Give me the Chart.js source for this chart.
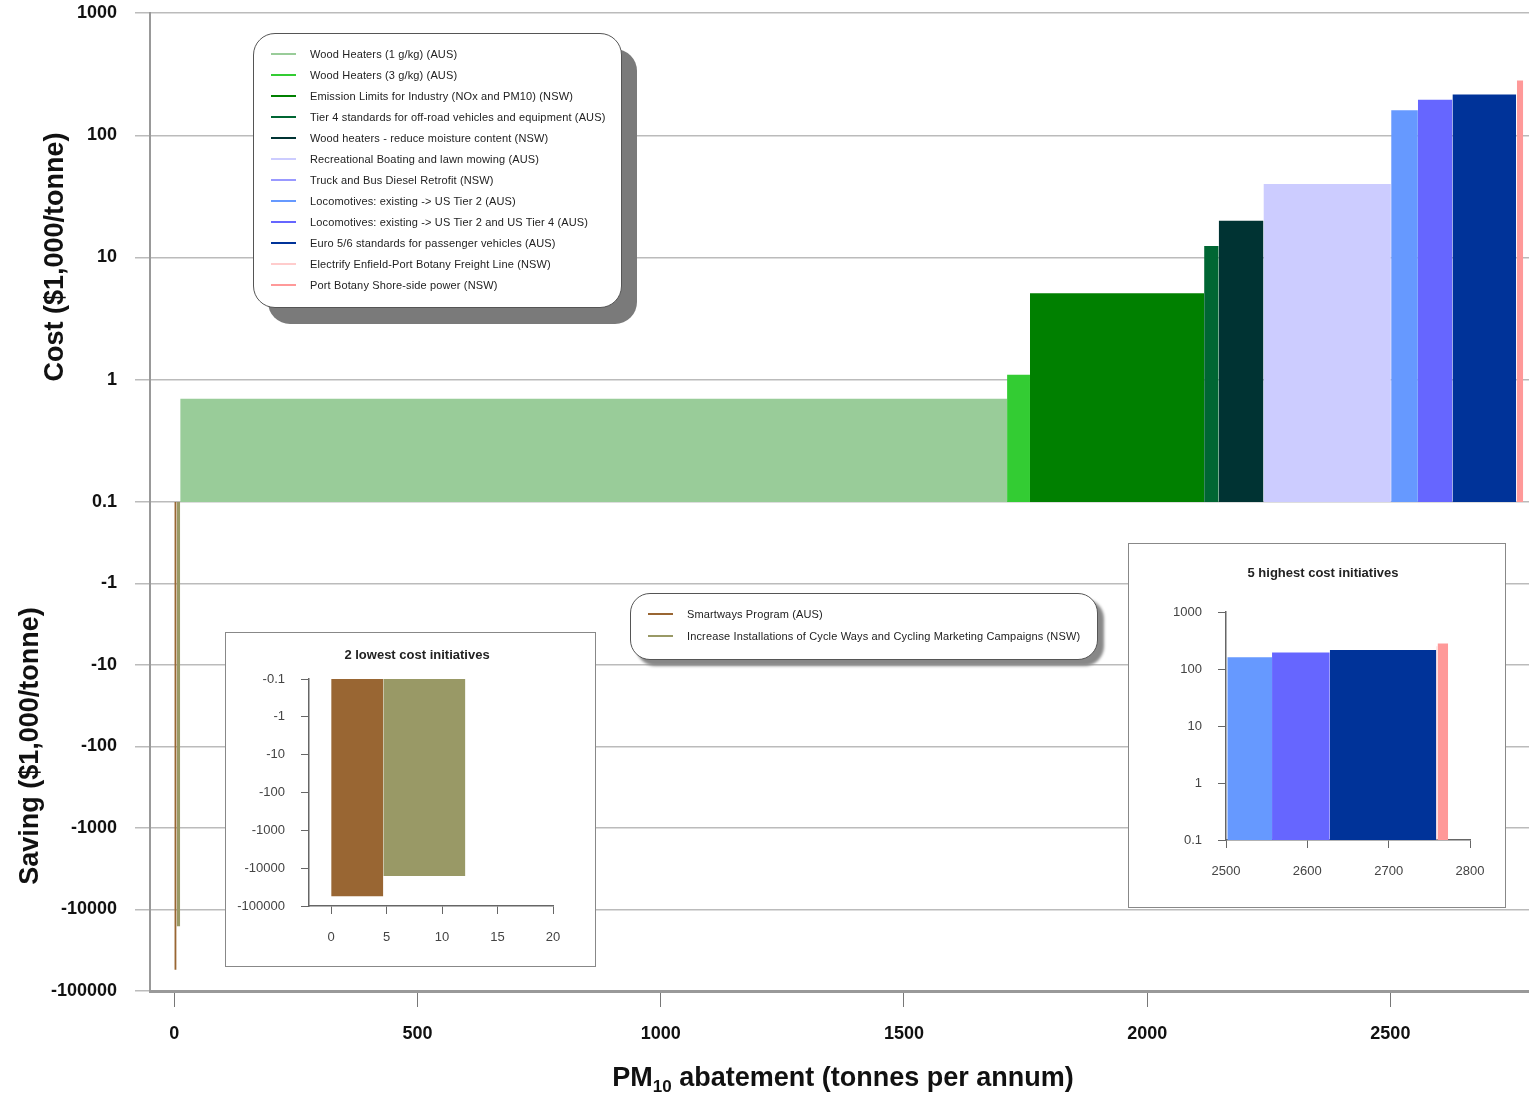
<!DOCTYPE html>
<html lang="en">
<head>
<meta charset="utf-8">
<title>PM10 abatement cost curve</title>
<script src="https://cdn.jsdelivr.net/npm/chart.js@4.4.0/dist/chart.umd.min.js"></script>
<style>
  html, body { margin: 0; padding: 0; background: #fff; }
  body { font-family: "Liberation Sans", Arial, sans-serif; }
  #wrap { position: relative; width: 1529px; height: 1096px; overflow: hidden; }
  #main { position: absolute; left: 0; top: 0; }
  .legend { position: absolute; background: #fff; border: 1.5px solid #555; box-sizing: border-box; }
  .legend .row { position: absolute; left: 0; height: 20px; line-height: 20px; font-size: 11px; letter-spacing: 0.14px; color: #222; white-space: nowrap; }
  .legend .swatch { position: absolute; left: 17px; top: 9px; width: 25px; height: 2px; }
  .legend .txt { position: absolute; left: 56px; top: 0; }
  .inset { position: absolute; background: #fff; border: 1px solid #888; box-sizing: border-box; }
  .inset canvas { position: absolute; left: 0; top: 0; }
  .inset .ttl { position: absolute; transform: translateX(-50%); white-space: nowrap; font-weight: bold; font-size: 13px; line-height: 16px; color: #222; }
</style>
</head>
<body>
<div id="wrap">
  <canvas id="main" width="1529" height="1096"></canvas>

  <div class="legend" id="legTop" style="left:253px; top:33px; width:369px; height:275px; border-radius:22px; box-shadow:15px 16px 0 #7a7a7a;"></div>
  <div class="legend" id="legLow" style="left:630px; top:593px; width:468px; height:67px; border-radius:20px; box-shadow:6px 6px 3px #888;"></div>

  <div class="inset" style="left:225px; top:632px; width:371px; height:335px;">
    <canvas id="lowChart" width="369" height="333"></canvas>
    <div class="ttl" style="left:191px; top:14px;">2 lowest cost initiatives</div>
  </div>
  <div class="inset" style="left:1128px; top:543px; width:378px; height:365px;">
    <canvas id="highChart" width="376" height="363"></canvas>
    <div class="ttl" style="left:194px; top:21px;">5 highest cost initiatives</div>
  </div>
</div>

<script>
// initiatives in cost order (left to right along the curve)
const names = [
  'Smartways Program (AUS)',
  'Increase Installations of Cycle Ways and Cycling Marketing Campaigns (NSW)',
  'Wood Heaters (1 g/kg) (AUS)',
  'Wood Heaters (3 g/kg) (AUS)',
  'Emission Limits for Industry (NOx and PM10) (NSW)',
  'Tier 4 standards for off-road vehicles and equipment (AUS)',
  'Wood heaters - reduce moisture content (NSW)',
  'Recreational Boating and lawn mowing (AUS)',
  'Truck and Bus Diesel Retrofit (NSW)',
  'Locomotives: existing -> US Tier 2 (AUS)',
  'Locomotives: existing -> US Tier 2 and US Tier 4 (AUS)',
  'Euro 5/6 standards for passenger vehicles (AUS)',
  'Electrify Enfield-Port Botany Freight Line (NSW)',
  'Port Botany Shore-side power (NSW)'
];
// PM10 abatement, tonnes per annum (bar widths)
const abatement = [4.7, 7.4, 1700, 47, 358, 30, 92, 262, 0.5, 55, 71, 131, 1.5, 13];
// cost, $1,000/tonne (negative = saving)
const cost = [-55000, -16000, 0.7, 1.1, 5.1, 12.4, 20, 40, 90, 160, 195, 215, 250, 280];
const colors = ['#996633', '#999966', '#99cc99', '#33cc33', '#008000', '#006633', '#003333',
                '#ccccff', '#9999ff', '#6699ff', '#6666ff', '#003399', '#ffcccc', '#ff9999'];

const xTicksMain = [0, 500, 1000, 1500, 2000, 2500];
const yTicksMain = [1000, 100, 10, 1, 0.1, -1, -10, -100, -1000, -10000, -100000];
const yLabelsMain = ['1000', '100', '10', '1', '0.1', '-1', '-10', '-100', '-1000', '-10000', '-100000'];
const xTicksLow = [0, 5, 10, 15, 20];
const yTicksLow = [-0.1, -1, -10, -100, -1000, -10000, -100000];
const yLabelsLow = ['-0.1', '-1', '-10', '-100', '-1000', '-10000', '-100000'];
const xTicksHigh = [2500, 2600, 2700, 2800];
const yTicksHigh = [1000, 100, 10, 1, 0.1];
const yLabelsHigh = ['1000', '100', '10', '1', '0.1'];

const lowIdx = [0, 1];
const highIdx = [9, 10, 11, 12, 13];

// split log axis: costs on log10 above 0.1, savings on a compressed log below
function tr(v) {
  return v > 0 ? Math.log10(v) : -1 - (Math.log10(-v) + 1) * 2 / 3;
}

const starts = [];
let acc = 0;
abatement.forEach(w => { starts.push(acc); acc += w; });

function barSet(i) {
  const x0 = starts[i], x1 = starts[i] + abatement[i], t = tr(cost[i]);
  return {
    label: names[i],
    data: [{x: x0, y: -1}, {x: x0, y: t}, {x: x1, y: t}, {x: x1, y: -1}],
    showLine: true,
    borderColor: 'rgba(0,0,0,0)',
    borderWidth: 0,
    backgroundColor: colors[i],
    fill: {value: -1},
    pointRadius: 0,
    tension: 0
  };
}

function fixedTicks(vals) {
  return function (s) { s.ticks = vals.map(v => ({value: v})); };
}

Chart.defaults.font.family = '"Liberation Sans", Arial, sans-serif';
Chart.defaults.animation = false;

const titlesPlugin = {
  id: 'titles',
  afterDraw(chart) {
    const ctx = chart.ctx;
    const fam = '"Liberation Sans", Arial, sans-serif';
    ctx.save();
    ctx.fillStyle = '#111';
    ctx.font = 'bold 27px ' + fam;
    ctx.textAlign = 'center';
    ctx.textBaseline = 'middle';
    [['Cost ($1,000/tonne)', 56, 257], ['Saving ($1,000/tonne)', 31, 746]].forEach(function (a) {
      ctx.save();
      ctx.translate(a[1], a[2]);
      ctx.rotate(-Math.PI / 2);
      ctx.fillText(a[0], 0, 0);
      ctx.restore();
    });
    // x title with subscript 10
    const big = 'bold 27px ' + fam, small = 'bold 17px ' + fam;
    const rest = ' abatement (tonnes per annum)';
    ctx.textAlign = 'left';
    ctx.textBaseline = 'alphabetic';
    ctx.font = big;
    const w1 = ctx.measureText('PM').width, w3 = ctx.measureText(rest).width;
    ctx.font = small;
    const w2 = ctx.measureText('10').width;
    let x = 843 - (w1 + w2 + w3) / 2;
    const base = 1086;
    ctx.font = big; ctx.fillText('PM', x, base); x += w1;
    ctx.font = small; ctx.fillText('10', x, base + 6); x += w2;
    ctx.font = big; ctx.fillText(rest, x, base);
    ctx.restore();
  }
};

new Chart(document.getElementById('main'), {
  type: 'scatter',
  data: { datasets: names.map((n, i) => barSet(i)) },
  options: {
    responsive: false,
    events: [],
    layout: { padding: { top: 13, right: 0, left: 0, bottom: 0 } },
    plugins: { legend: { display: false }, tooltip: { enabled: false } },
    scales: {
      x: {
        type: 'linear', min: -50, max: 2785,
        afterBuildTicks: fixedTicks(xTicksMain),
        afterFit: s => { s.height = 105; },
        grid: { drawOnChartArea: false, drawTicks: true, tickLength: 16, color: '#777', lineWidth: 1 },
        border: { display: true, color: '#999', width: 3 },
        ticks: { autoSkip: false, maxRotation: 0, padding: 16, color: '#111', font: { size: 18, weight: 'bold' },
                 callback: v => String(v) }
      },
      y: {
        type: 'linear', min: -5, max: 3,
        afterBuildTicks: fixedTicks(yTicksMain.map(tr)),
        afterFit: s => { s.width = 150; s.paddingTop = 0; s.paddingBottom = 0; },
        grid: { color: '#bbb', lineWidth: 1.5, tickLength: 15 },
        border: { display: true, color: '#999', width: 2 },
        ticks: { padding: 18, color: '#111', font: { size: 18, weight: 'bold' }, callback: (v, i) => yLabelsMain[i] }
      }
    }
  },
  plugins: [titlesPlugin]
});

function insetChart(id, idx, xmin, xmax, xt, ymin, ymax, yt, yl, pad, yw, xh) {
  new Chart(document.getElementById(id), {
    type: 'scatter',
    data: { datasets: idx.map(barSet) },
    options: {
      responsive: false,
      events: [],
      layout: { padding: pad },
      plugins: { legend: { display: false }, tooltip: { enabled: false } },
      scales: {
        x: {
          type: 'linear', min: xmin, max: xmax,
          afterBuildTicks: fixedTicks(xt),
          afterFit: s => { s.height = xh; },
          grid: { drawOnChartArea: false, tickLength: 8, color: '#666', lineWidth: 1 },
          border: { display: true, color: '#666', width: 1.5 },
          ticks: { autoSkip: false, maxRotation: 0, padding: 16, color: '#444', font: { size: 13 },
                   callback: v => String(v) }
        },
        y: {
          type: 'linear', min: ymin, max: ymax,
          afterBuildTicks: fixedTicks(yt.map(tr)),
          afterFit: s => { s.width = yw; s.paddingTop = 0; s.paddingBottom = 0; },
          grid: { drawOnChartArea: false, tickLength: 8, color: '#666', lineWidth: 1 },
          border: { display: true, color: '#666', width: 1.5 },
          ticks: { padding: 16, color: '#444', font: { size: 13 }, callback: (v, i) => yl[i] }
        }
      }
    }
  });
}

insetChart('lowChart', lowIdx, -2, 20, xTicksLow, -5, -1, yTicksLow, yLabelsLow,
           { top: 46, right: 42, left: 0, bottom: 0 }, 83, 60);
insetChart('highChart', highIdx, 2500, 2800, xTicksHigh, -1, 3, yTicksHigh, yLabelsHigh,
           { top: 68, right: 35, left: 0, bottom: 0 }, 97, 67);

// HTML legends
function fillLegend(el, idx, y0, step) {
  idx.forEach((i, k) => {
    const row = document.createElement('div');
    row.className = 'row';
    row.style.top = (y0 + k * step - 10) + 'px';
    row.style.width = '100%';
    const sw = document.createElement('span');
    sw.className = 'swatch';
    sw.style.background = colors[i];
    const tx = document.createElement('span');
    tx.className = 'txt';
    tx.textContent = names[i];
    row.appendChild(sw);
    row.appendChild(tx);
    el.appendChild(row);
  });
}
fillLegend(document.getElementById('legTop'), [2, 3, 4, 5, 6, 7, 8, 9, 10, 11, 12, 13], 20, 21);
fillLegend(document.getElementById('legLow'), lowIdx, 20, 22);
</script>
</body>
</html>
